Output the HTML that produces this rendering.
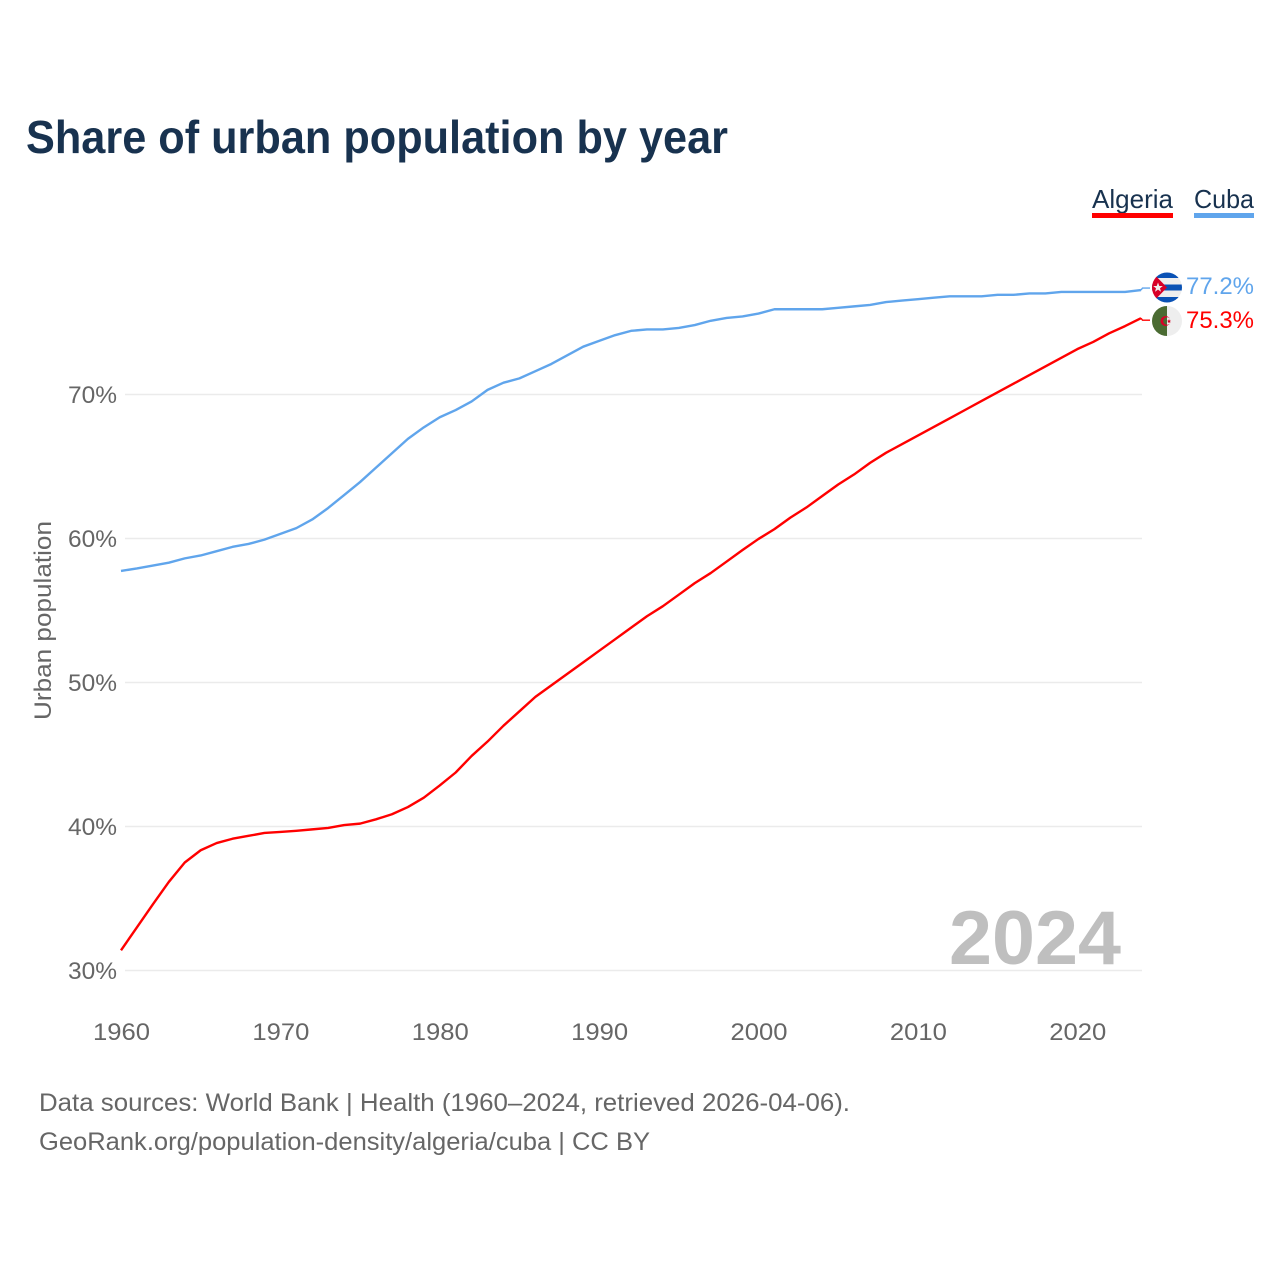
<!DOCTYPE html>
<html lang="en">
<head>
<meta charset="utf-8">
<title>Share of urban population by year</title>
<style>
html,body{margin:0;padding:0;background:#fff;}
svg{display:block;font-family:"Liberation Sans",sans-serif;}
</style>
</head>
<body>
<svg id="chart" xmlns="http://www.w3.org/2000/svg" width="1280" height="1280" viewBox="0 0 1280 1280">
  <rect width="1280" height="1280" fill="#fff"/>
  <text x="26" y="153" font-size="46" font-weight="700" fill="#18324f" textLength="702" lengthAdjust="spacingAndGlyphs">Share of urban population by year</text>

  <g>
    <text x="1092" y="208" font-size="26" fill="#18324f" textLength="81" lengthAdjust="spacingAndGlyphs">Algeria</text>
    <rect x="1092" y="213" width="81" height="5" fill="#ff0000"/>
    <text x="1194" y="208" font-size="26" fill="#18324f" textLength="60" lengthAdjust="spacingAndGlyphs">Cuba</text>
    <rect x="1194" y="213" width="60" height="5" fill="#60a5ec"/>
  </g>

  <g id="grid"></g>
  <g id="yticks"></g>
  <g id="xticks"></g>
  <text transform="translate(51,620.5) rotate(-90)" text-anchor="middle" font-size="24" fill="#666" textLength="199" lengthAdjust="spacingAndGlyphs">Urban population</text>

  <text x="949" y="964" font-size="76" font-weight="700" fill="#bfbfbf" textLength="172" lengthAdjust="spacingAndGlyphs">2024</text>

  <g id="series"></g>

  <g>
    <clipPath id="cubaClip"><circle cx="1167" cy="287.5" r="15"/></clipPath>
    <g clip-path="url(#cubaClip)">
      <rect x="1151" y="272" width="32" height="31" fill="#eeeeee"/>
      <rect x="1151" y="272" width="32" height="6" fill="#0a52b5"/>
      <rect x="1151" y="284.5" width="32" height="6" fill="#0a52b5"/>
      <rect x="1151" y="297" width="32" height="6" fill="#0a52b5"/>
      <polygon points="1152,272 1167,287.5 1152,303" fill="#d80027"/>
      <polygon points="1158,282.5 1159.3,286 1162.8,286 1160,288.2 1161,291.7 1158,289.6 1155,291.7 1156,288.2 1153.2,286 1156.7,286" fill="#eeeeee"/>
    </g>
  </g>
  <g>
    <clipPath id="algeriaClip"><circle cx="1167" cy="321" r="15"/></clipPath>
    <g clip-path="url(#algeriaClip)">
      <rect x="1151" y="305" width="32" height="32" fill="#eeeeee"/>
      <rect x="1151" y="305" width="16" height="32" fill="#4a6b32"/>
      <circle cx="1165.5" cy="321" r="5" fill="#d80027"/>
      <path d="M1167 317.2 A3.8 3.8 0 0 0 1167 324.8 Z" fill="#4a6b32"/>
      <path d="M1167 317.2 A3.8 3.8 0 0 1 1167 324.8 Z" fill="#eeeeee"/>
      <polygon points="1169,319 1169.6,320.5 1171,320.7 1170,321.6 1170.3,323 1169,322.3 1167.8,323 1168,321.6 1167,320.7 1168.4,320.5" fill="#d80027"/>
    </g>
  </g>

  <g id="endlabels"></g>

  <text x="39" y="1111" font-size="25" fill="#666" textLength="811" lengthAdjust="spacingAndGlyphs">Data sources: World Bank | Health (1960–2024, retrieved 2026-04-06).</text>
  <text x="39" y="1150" font-size="25" fill="#666" textLength="611" lengthAdjust="spacingAndGlyphs">GeoRank.org/population-density/algeria/cuba | CC BY</text>
</svg>
<script>
const years = [1960,1961,1962,1963,1964,1965,1966,1967,1968,1969,1970,1971,1972,1973,1974,1975,1976,1977,1978,1979,1980,1981,1982,1983,1984,1985,1986,1987,1988,1989,1990,1991,1992,1993,1994,1995,1996,1997,1998,1999,2000,2001,2002,2003,2004,2005,2006,2007,2008,2009,2010,2011,2012,2013,2014,2015,2016,2017,2018,2019,2020,2021,2022,2023,2024];
const algeria = [31.4,33.0,34.6,36.15,37.5,38.35,38.85,39.15,39.35,39.55,39.62,39.7,39.8,39.9,40.1,40.2,40.5,40.85,41.35,42.0,42.85,43.75,44.9,45.9,47.0,48.0,49.0,49.8,50.6,51.4,52.2,53.0,53.8,54.6,55.3,56.1,56.9,57.6,58.4,59.2,59.97,60.65,61.45,62.15,62.95,63.75,64.45,65.25,65.95,66.55,67.15,67.75,68.35,68.95,69.55,70.15,70.75,71.35,71.95,72.55,73.15,73.65,74.25,74.75,75.3];
const cuba = [57.75,57.92,58.12,58.32,58.62,58.82,59.12,59.42,59.62,59.92,60.32,60.72,61.32,62.12,63.02,63.92,64.92,65.92,66.92,67.72,68.42,68.92,69.52,70.32,70.82,71.12,71.62,72.12,72.72,73.32,73.72,74.12,74.42,74.52,74.52,74.62,74.82,75.12,75.32,75.42,75.62,75.92,75.92,75.92,75.92,76.02,76.12,76.22,76.42,76.52,76.62,76.72,76.82,76.82,76.82,76.92,76.92,77.02,77.02,77.12,77.12,77.12,77.12,77.12,77.25];
const yTickValues = [30,40,50,60,70];
const xTickValues = [1960,1970,1980,1990,2000,2010,2020];
const algeriaEndLabel = "75.3%";
const cubaEndLabel = "77.2%";

const NS = "http://www.w3.org/2000/svg";
const xScale = function (year) { return 121 + (year - 1960) * (1141 - 121) / (2024 - 1960); };
const yScale = function (pct) { return 970.5 - (pct - 30) * 14.4; };

function make(tag, parent, attrs, text) {
  const el = document.createElementNS(NS, tag);
  for (const k in attrs) el.setAttribute(k, attrs[k]);
  if (text !== undefined) el.textContent = text;
  parent.appendChild(el);
  return el;
}

const grid = document.getElementById("grid");
const yticks = document.getElementById("yticks");
const xticks = document.getElementById("xticks");
const series = document.getElementById("series");
const endlabels = document.getElementById("endlabels");

yTickValues.forEach(function (v) {
  const line = make("line", grid, {x1: 125, x2: 1142, y1: yScale(v), y2: yScale(v), stroke: "#ebebeb", "stroke-width": 1.5});
  
  
  const label = make("text", yticks, {x: 68, y: yScale(v) + 8.5, "font-size": 24, fill: "#666", textLength: 49, lengthAdjust: "spacingAndGlyphs"}, v + "%");
  
  
});

xTickValues.forEach(function (v) {
  const label = make("text", xticks, {x: xScale(v) - 28, y: 1040, "font-size": 24, fill: "#666", textLength: 57, lengthAdjust: "spacingAndGlyphs"}, String(v));
  
  
});

function linePoints(values) {
  return values.map(function (v, i) { return xScale(years[i]).toFixed(2) + "," + yScale(v).toFixed(2); }).join(" ");
}

const cubaLine = make("polyline", series, {points: linePoints(cuba), fill: "none", stroke: "#60a5ec", "stroke-width": 2.4, "stroke-linejoin": "round"});


const algeriaLine = make("polyline", series, {points: linePoints(algeria), fill: "none", stroke: "#ff0000", "stroke-width": 2.4, "stroke-linejoin": "round"});



const cubaEndX = xScale(years[years.length - 1]);
const cubaEndY = yScale(cuba[cuba.length - 1]);
const cubaLeader = make("polyline", series, {points: cubaEndX + "," + cubaEndY + " " + (cubaEndX + 1.5) + "," + (cubaEndY - 2) + " " + (cubaEndX + 9) + "," + (cubaEndY - 2), fill: "none", stroke: "#60a5ec", "stroke-width": 1.4});


const algEndY = yScale(algeria[algeria.length - 1]);
const algLeader = make("polyline", series, {points: cubaEndX + "," + algEndY + " " + (cubaEndX + 1.5) + "," + (algEndY + 2) + " " + (cubaEndX + 9) + "," + (algEndY + 2), fill: "none", stroke: "#ff0000", "stroke-width": 1.4});



const cubaLabel = make("text", endlabels, {x: 1186, y: 294, "font-size": 24, fill: "#60a5ec", textLength: 68, lengthAdjust: "spacingAndGlyphs"}, cubaEndLabel);


const algeriaLabel = make("text", endlabels, {x: 1186, y: 328, "font-size": 24, fill: "#ff0000", textLength: 68, lengthAdjust: "spacingAndGlyphs"}, algeriaEndLabel);


</script>
</body>
</html>
